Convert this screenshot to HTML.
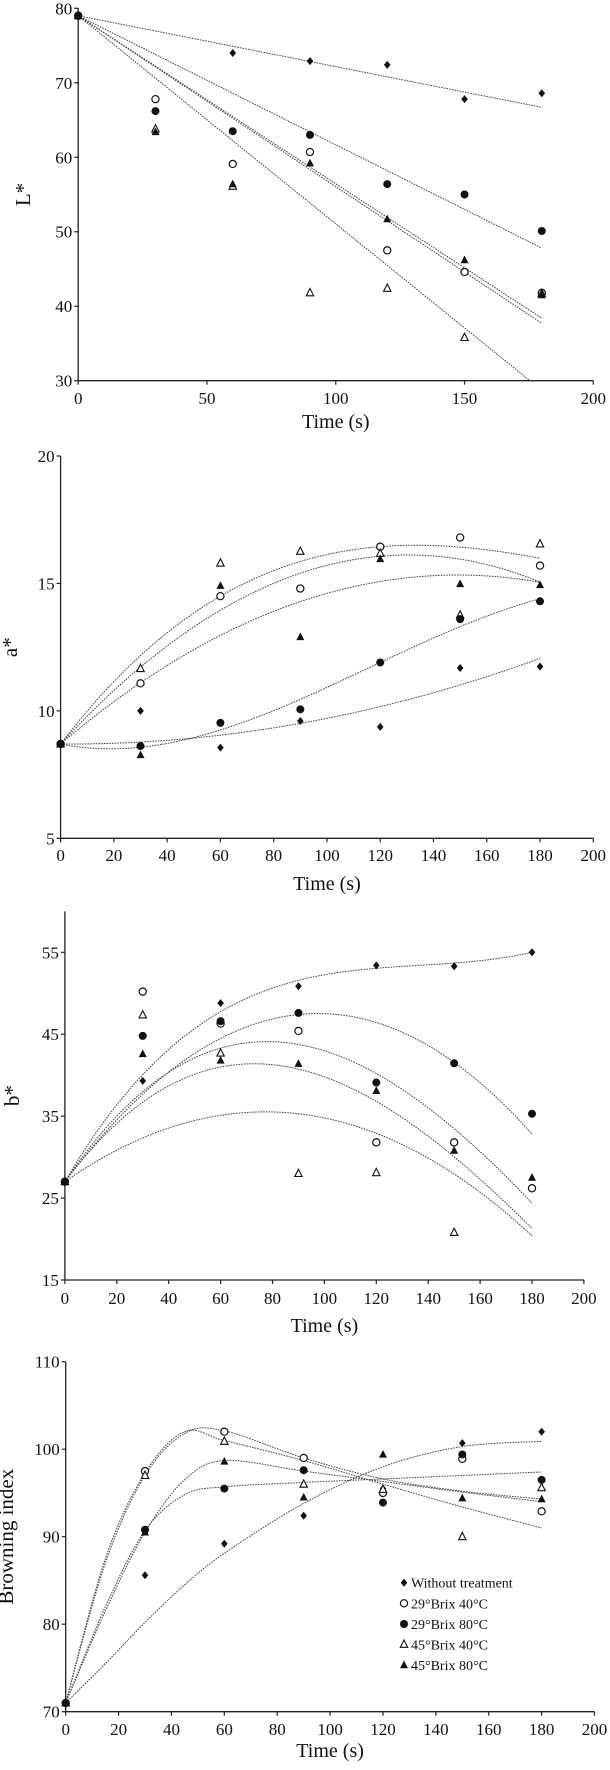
<!DOCTYPE html>
<html><head><meta charset="utf-8"><style>
html,body{margin:0;padding:0;background:#fff;}
svg{display:block;}
text{font-family:"Liberation Serif",serif;fill:#111;}
</style></head><body>
<svg id="chart" width="610" height="1770" viewBox="0 0 610 1770" xmlns="http://www.w3.org/2000/svg"></svg>
<script>
// ---- shared data ----
const times = [0, 30, 60, 90, 120, 150, 180];
const seriesNames = ["without", "brix29-40", "brix29-80", "brix45-40", "brix45-80"];
const legendLabels = ["Without treatment", "29°Brix 40°C", "29°Brix 80°C", "45°Brix 40°C", "45°Brix 80°C"];

// ---- panel 1: L* ----
const lWithout = [79, null, 74.0, 72.9, 72.4, 67.8, 68.6];
const l29_40 = [79, 67.8, 59.1, 60.7, 47.5, 44.6, 41.8];
const l29_80 = [79, 66.2, 63.5, 63.0, 56.4, 55.0, 50.1];
const l45_40 = [79, 63.8, 56.1, 41.8, 42.4, 35.8, 41.7];
const l45_80 = [79, 63.4, 56.4, 59.2, 51.7, 46.2, 41.5];
const lFitIntercept = [79, 79, 79, 79, 79];
const lFitSlope = [-0.0683, -0.2256, -0.1733, -0.2794, -0.2294];
const lYTicks = [30, 40, 50, 60, 70, 80];
const lXTicks = [0, 50, 100, 150, 200];

// ---- panel 2: a* ----
const aWithout = [8.7, 10.0, 8.56, 9.6, 9.37, 11.68, 11.74];
const a29_40 = [8.7, 11.08, 14.5, 14.8, 16.44, 16.8, 15.7];
const a29_80 = [8.7, 8.62, 9.53, 10.06, 11.9, 13.6, 14.3];
const a45_40 = [8.7, 11.66, 15.8, 16.26, 16.18, 13.76, 16.55];
const a45_80 = [8.7, 8.27, 14.91, 12.9, 15.96, 14.98, 14.94];
// cubic fit coefficients [c0, c1, c2, c3]
const aFitWithout = [8.7, -0.00067, 0.0001074, 0];
const aFit29_40 = [8.7, 0.0889, -0.000298, 0];
const aFit29_80 = [8.7, -0.02083, 0.000604, -0.000001736];
const aFit45_40 = [8.7, 0.13683, -0.000737, 0.000001121];
const aFit45_80 = [8.7, 0.1136, -0.000435, 0];
const aYTicks = [5, 10, 15, 20];
const stdXTicks = [0, 20, 40, 60, 80, 100, 120, 140, 160, 180, 200];

// ---- panel 3: b* ----
const bWithout = [27, 39.3, 48.8, 50.85, 53.4, 53.3, 55.0];
const b29_40 = [27, 50.2, 46.3, 45.4, 31.8, 31.8, 26.2];
const b29_80 = [27, 44.8, 46.6, 47.6, 39.1, 41.45, 35.3];
const b45_40 = [27, 47.35, 42.7, 28.0, 28.1, 20.8, null];
const b45_80 = [27, 42.6, 41.8, 41.4, 38.1, 30.8, 27.5];
const bFitWithout = [27, 0.54181, -0.0038267, 0.000009338];
const bFit29_40 = [27, 0.47056, -0.003625, 0.00000517];
const bFit29_80 = [27, 0.4211, -0.00216, 0];
const bFit45_40 = [27, 0.2209, -0.001431, 0];
const bFit45_80 = [27, 0.42333, -0.003486, 0.000005324];
const bYTicks = [15, 25, 35, 45, 55];

// ---- panel 4: Browning index ----
const biWithout = [71, 85.6, 89.2, 92.4, 95.5, 100.7, 102.0];
const bi29_40 = [71, 97.5, 102.0, 99.0, 95.0, 98.9, 92.9];
const bi29_80 = [71, 90.8, 95.5, 97.6, 93.9, 99.4, 96.5];
const bi45_40 = [71, 97.0, 100.9, 96.0, 95.4, 90.0, 95.6];
const bi45_80 = [71, 90.5, 98.6, 94.5, 99.4, 94.4, 94.3];
const biTrendTimes = [0, 15, 30, 45, 60, 90, 120, 150, 180];
const biTrendWithout = [71, 75.5, 80.2, 84.5, 88.1, 93.8, 98.0, 100.3, 100.9];
const biTrend29_40 = [71, 87, 97, 101.8, 102.1, 99.0, 96.6, 95.2, 94.3];
const biTrend29_80 = [71, 82, 90.7, 94.8, 95.7, 96.2, 96.6, 97.0, 97.4];
const biTrend45_40 = [71, 87.5, 97.3, 102.0, 101.0, 98.7, 96.0, 93.4, 91.0];
const biTrend45_80 = [71, 81.5, 90.5, 96.5, 98.7, 97.5, 96.3, 95.1, 94.0];
const biYTicks = [70, 80, 90, 100, 110];

const NS = "http://www.w3.org/2000/svg";
const svg = document.getElementById("chart");
function mk(tag, attrs, parent) {
  const e = document.createElementNS(NS, tag);
  for (const k in attrs) e.setAttribute(k, attrs[k]);
  (parent || svg).appendChild(e);
  return e;
}

function makePanel(cfg) {
  const g = mk("g", {});
  
  
  const sx = v => cfg.xL + (v - cfg.xMin) / (cfg.xMax - cfg.xMin) * (cfg.xR - cfg.xL);
  const sy = v => cfg.yB + (v - cfg.yMin) / (cfg.yMax - cfg.yMin) * (cfg.yT - cfg.yB);
  const topPx = sy(cfg.yAxisTop);
  // clip
  const cid = cfg.name + "-clip";
  const cp = mk("clipPath", { id: cid }, g);
  mk("rect", { x: cfg.xL, y: topPx - 10, width: cfg.xR - cfg.xL + 10, height: cfg.yB - topPx + 10 }, cp);
  // axes
  const ax = mk("path", { d: `M${cfg.xL},${topPx}V${cfg.yB}H${cfg.xR}`, fill: "none", stroke: "#222", "stroke-width": 1.3 }, g);
  
  
  // y ticks
  cfg.yTicks.forEach(v => {
    const y = sy(v);
    mk("line", { x1: cfg.xL - 4, x2: cfg.xL, y1: y, y2: y, stroke: "#222", "stroke-width": 1.2 }, g);
    const t = mk("text", { x: cfg.xL - 6, y: y + 6, "text-anchor": "end", "font-size": 17 }, g);
    t.textContent = v;
    
    
  });
  // x ticks
  cfg.xTicks.forEach(v => {
    const x = sx(v);
    mk("line", { x1: x, x2: x, y1: cfg.yB, y2: cfg.yB + 4, stroke: "#222", "stroke-width": 1.2 }, g);
    const t = mk("text", { x: x, y: cfg.xLabY + 6, "text-anchor": "middle", "font-size": 17 }, g);
    t.textContent = v;
    
    
  });
  const xt = mk("text", { x: (cfg.xL + cfg.xR) / 2, y: cfg.xTitleY + 7, "text-anchor": "middle", "font-size": 20 }, g);
  xt.textContent = "Time (s)";
  
  
  const ymid = (topPx + cfg.yB) / 2;
  const yt = mk("text", { x: cfg.yTitleX, y: ymid, "text-anchor": "middle", "font-size": 21, transform: `rotate(-90 ${cfg.yTitleX} ${ymid})` }, g);
  yt.textContent = cfg.yTitle;
  
  
  // fits
  const fg = mk("g", { "clip-path": `url(#${cid})` }, g);
  cfg.fits.forEach((f, i) => {
    let d = "";
    if (f.poly) {
      for (let s = 0; s <= 180; s += 2) {
        const c = f.poly;
        const v = c[0] + c[1] * s + c[2] * s * s + c[3] * s * s * s;
        d += (s ? "L" : "M") + sx(s).toFixed(2) + "," + sy(v).toFixed(2);
      }
    } else {
      const P = f.tt.map((tv, k) => [sx(tv), sy(f.vals[k])]);
      d = "M" + P[0][0] + "," + P[0][1];
      for (let k = 0; k < P.length - 1; k++) {
        const p0 = P[Math.max(0, k - 1)], p1 = P[k], p2 = P[k + 1], p3 = P[Math.min(P.length - 1, k + 2)];
        const c1 = [p1[0] + (p2[0] - p0[0]) / 6, p1[1] + (p2[1] - p0[1]) / 6];
        const c2 = [p2[0] - (p3[0] - p1[0]) / 6, p2[1] - (p3[1] - p1[1]) / 6];
        d += `C${c1[0]},${c1[1]} ${c2[0]},${c2[1]} ${p2[0]},${p2[1]}`;
      }
    }
    const p = mk("path", { d: d, fill: "none", stroke: "#444", "stroke-width": 1, "stroke-dasharray": "1.6 1.1" }, fg);
    
    
  });
  // markers
  [0, 1, 3, 2, 4].forEach(si => {
    const vals = cfg.series[si];
    vals.forEach((v, k) => {
      if (v === null) return;
      const m = drawMarker(g, si, sx(times[k]), sy(v));
      
      
    });
  });
  return g;
}

function drawMarker(parent, si, x, y) {
  if (si === 0) return mk("path", { d: `M${x},${y - 4}L${x + 3.3},${y}L${x},${y + 4}L${x - 3.3},${y}Z`, fill: "#111" }, parent);
  if (si === 1) return mk("circle", { cx: x, cy: y, r: 3.6, fill: "#fff", stroke: "#111", "stroke-width": 1.2 }, parent);
  if (si === 2) return mk("circle", { cx: x, cy: y, r: 4, fill: "#111" }, parent);
  if (si === 3) return mk("path", { d: `M${x},${y - 4.3}L${x + 3.7},${y + 3}L${x - 3.7},${y + 3}Z`, fill: "#fff", stroke: "#111", "stroke-width": 1.1 }, parent);
  return mk("path", { d: `M${x},${y - 4.5}L${x + 4},${y + 3.2}L${x - 4},${y + 3.2}Z`, fill: "#111" }, parent);
}

makePanel({
  name: "panel-lightness", xL: 78.2, xR: 593.3, xMin: 0, xMax: 200, yT: 8.3, yB: 380.7, yMin: 30, yMax: 80, yAxisTop: 80,
  yTicks: lYTicks, xTicks: lXTicks, xLabY: 398, xTitleY: 421, yTitleX: 30, yTitle: "L*",
  series: [lWithout, l29_40, l29_80, l45_40, l45_80],
  fits: lFitSlope.map((m, i) => ({ s: i, poly: [lFitIntercept[i], m, 0, 0] }))
});
makePanel({
  name: "panel-a-star", xL: 60.6, xR: 593.3, xMin: 0, xMax: 200, yT: 456, yB: 838.3, yMin: 5, yMax: 20, yAxisTop: 20,
  yTicks: aYTicks, xTicks: stdXTicks, xLabY: 855, xTitleY: 883, yTitleX: 17, yTitle: "a*",
  series: [aWithout, a29_40, a29_80, a45_40, a45_80],
  fits: [{ s: 0, poly: aFitWithout }, { s: 1, poly: aFit29_40 }, { s: 2, poly: aFit29_80 }, { s: 3, poly: aFit45_40 }, { s: 4, poly: aFit45_80 }]
});
makePanel({
  name: "panel-b-star", xL: 64.9, xR: 583.9, xMin: 0, xMax: 200, yT: 952.3, yB: 1280, yMin: 15, yMax: 55, yAxisTop: 60,
  yTicks: bYTicks, xTicks: stdXTicks, xLabY: 1298, xTitleY: 1325, yTitleX: 19, yTitle: "b*",
  series: [bWithout, b29_40, b29_80, b45_40, b45_80],
  fits: [{ s: 0, poly: bFitWithout }, { s: 1, poly: bFit29_40 }, { s: 2, poly: bFit29_80 }, { s: 3, poly: bFit45_40 }, { s: 4, poly: bFit45_80 }]
});
makePanel({
  name: "panel-browning-index", xL: 65.7, xR: 594.5, xMin: 0, xMax: 200, yT: 1361.7, yB: 1711.7, yMin: 70, yMax: 110, yAxisTop: 110,
  yTicks: biYTicks, xTicks: stdXTicks, xLabY: 1729, xTitleY: 1750, yTitleX: 13, yTitle: "Browning index",
  series: [biWithout, bi29_40, bi29_80, bi45_40, bi45_80],
  fits: [biTrendWithout, biTrend29_40, biTrend29_80, biTrend45_40, biTrend45_80].map((v, i) => ({ s: i, tt: biTrendTimes, vals: v }))
});

// legend
const lg = mk("g", {});


const legendY = [1582.7, 1603.3, 1624, 1644.3, 1665];
legendLabels.forEach((lab, i) => {
  const eg = mk("g", {}, lg);
  
  
  drawMarker(eg, i, 404, legendY[i]);
  const t = mk("text", { x: 411, y: legendY[i] + 5, "font-size": 14 }, eg);
  t.textContent = lab;
});
</script>
</body></html>
